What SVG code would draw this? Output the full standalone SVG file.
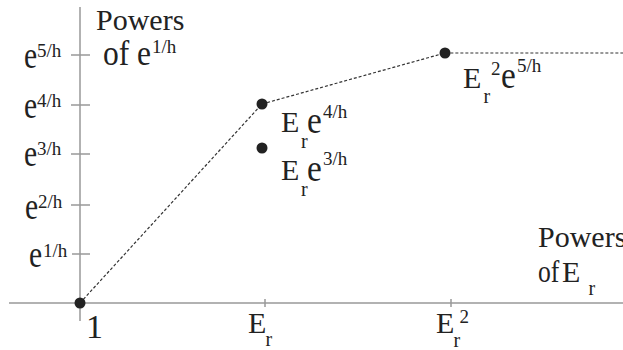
<svg xmlns="http://www.w3.org/2000/svg" width="623" height="350" viewBox="0 0 623 350">
<style>
.ax{stroke:#999;stroke-width:1.5;fill:none}
.dash{stroke:#333;stroke-width:1.2;stroke-dasharray:3 2;fill:none}
.dot{fill:#222}
text{font-family:"Liberation Serif","Times New Roman",serif;fill:#222}
.big{font-size:30px}
.e{font-size:37px}
.sup{font-size:19px}
.sub{font-size:20px}
</style>
<rect width="623" height="350" fill="#fff"/>
<g id="axes">
<line class="ax" x1="80" y1="7" x2="80" y2="321"/>
<line class="ax" x1="9" y1="303" x2="623" y2="303"/>
<line class="ax" x1="71" y1="55" x2="90" y2="55"/>
<line class="ax" x1="71" y1="105" x2="90" y2="105"/>
<line class="ax" x1="71" y1="154" x2="90" y2="154"/>
<line class="ax" x1="71" y1="205" x2="90" y2="205"/>
<line class="ax" x1="72" y1="254" x2="90" y2="254"/>
<line class="ax" x1="265" y1="299" x2="265" y2="307"/>
<line class="ax" x1="451" y1="299" x2="451" y2="307"/>
</g>
<g id="axis-labels">
<text class="big" x="96" y="30">Powers</text>
<text style="font-size:35px" transform="translate(103,65) scale(0.9,1)">of e</text>
<text class="sup" x="152" y="53">1/h</text>
<text class="e" transform="translate(24,68) scale(0.8,1)">e</text><text class="sup" x="37" y="57">5/h</text>
<text class="e" transform="translate(24,118) scale(0.8,1)">e</text><text class="sup" x="37" y="107">4/h</text>
<text class="e" transform="translate(24,166) scale(0.8,1)">e</text><text class="sup" x="37" y="155">3/h</text>
<text class="e" transform="translate(25,219) scale(0.8,1)">e</text><text class="sup" x="38" y="208">2/h</text>
<text class="e" transform="translate(29,267) scale(0.8,1)">e</text><text class="sup" x="43" y="257">1/h</text>
<text x="86" y="338" style="font-size:34px">1</text>
<text class="big" x="248" y="333">E</text><text class="sub" x="265.5" y="346">r</text>
<text class="big" x="436" y="333">E</text><text class="sub" x="453.5" y="347">r</text><text class="sup" x="459.5" y="323">2</text>
<text class="big" x="538" y="247">Powers</text>
<text style="font-size:32px" transform="translate(538,282) scale(0.8,1)">of</text><text class="big" x="562" y="282">E</text><text class="sub" x="588.5" y="295">r</text>
</g>
<g id="connectors">
<path class="dash" d="M80,303 L262,104 L445,53 L623,53"/>
</g>
<g id="node-1">
<circle class="dot" cx="80" cy="303" r="5.5"/>
</g>
<g id="node-Er-e4h">
<circle class="dot" cx="262" cy="104" r="5.5"/>
<text class="big" x="281" y="132">E</text><text class="sub" x="301" y="148">r</text><text class="e" transform="translate(307,133) scale(0.9,1)">e</text><text class="sup" x="323" y="118">4/h</text>
</g>
<g id="node-Er-e3h">
<circle class="dot" cx="262" cy="148" r="5.5"/>
<text class="big" x="281" y="180">E</text><text class="sub" x="301" y="196">r</text><text class="e" transform="translate(307,181) scale(0.9,1)">e</text><text class="sup" x="323" y="165">3/h</text>
</g>
<g id="node-Er2-e5h">
<circle class="dot" cx="445" cy="53" r="5.5"/>
<text class="big" x="463" y="88">E</text><text class="sub" x="483.5" y="103">r</text><text class="sup" x="491" y="75">2</text><text class="e" transform="translate(501,88) scale(0.9,1)">e</text><text class="sup" x="517" y="72">5/h</text>
</g>
</svg>
